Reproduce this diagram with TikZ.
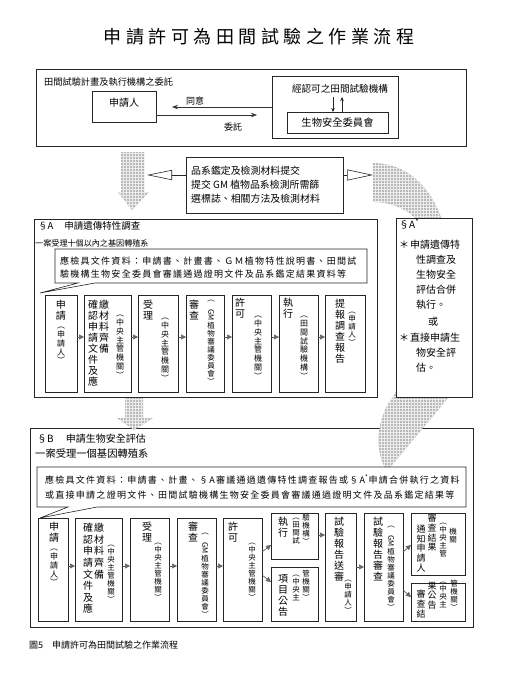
\documentclass[tikz,border=0pt]{standalone}
\usepackage{fontspec}
\setmainfont{Noto Sans CJK TC}
\newfontfamily\lsf[LetterSpace=14]{Noto Sans CJK TC}
\newfontfamily\titlef[LetterSpace=25]{Noto Sans CJK TC}
\usetikzlibrary{arrows.meta,patterns}
\ExplSyntaxOn
\NewDocumentCommand\vtx{m}{
  \seq_clear:N \l_tmpa_seq
  \tl_map_inline:nn {#1} { \seq_put_right:Nn \l_tmpa_seq {##1} }
  \seq_use:Nn \l_tmpa_seq { \\ }
}
\ExplSyntaxOff
\newcommand\boxnode[5]{\node[bx, minimum width={#4-#2}, minimum height={#5-#3}] (#1) at (#2,#3) {};}
\newcommand\vcol[5]{\node[#1] (#2) at (#3,#4) {\vtx{#5}};}
\tikzset{
 bx/.style={draw=black!85, line width=0.6pt, fill=white, inner sep=0pt, outer sep=0pt, anchor=north west},
 vm/.style={anchor=north, align=center, inner sep=0pt, font=\fontsize{10}{11}\selectfont},
 vmb/.style={vm, font=\fontsize{10}{11.6}\selectfont},
 vs/.style={vm, font=\fontsize{9}{9.6}\selectfont},
 vp/.style={vm, font=\fontsize{8}{8.8}\selectfont},
 vpp/.style={vm, font=\fontsize{7.5}{8}\selectfont},
 lab/.style={anchor=west, inner sep=0pt},
 flow/.style={draw=black!70, line width=0.6pt, -{Triangle[length=5pt,width=5pt,color=black!60,fill=black!60]}},
 sarr/.style={draw=black!85, line width=0.5pt, -{Stealth[length=4pt,width=3.5pt]}},
 harr/.style={draw=black!80, line width=0.7pt, -{Stealth[length=6pt,width=4.5pt]}},
 oarr/.style={draw=black!85, line width=0.6pt},
 callout/.style={draw=black!85, line width=0.6pt, fill=white, line join=miter},
 gfill/.style={fill=gray!55, draw=none, postaction={pattern=grid, pattern color=gray!15}},
}
\begin{document}
\begin{tikzpicture}[x=1pt,y=-1pt]
\useasboundingbox (0,0) rectangle (507,678);
\fill[white] (0,0) rectangle (507,678);
\node[font=\titlef\fontsize{18}{20}\selectfont, inner sep=0] (title) at (259,37) {申請許可為田間試驗之作業流程};

% ---- top box
\boxnode{top}{36}{69}{466}{146}
\node[lab, font=\fontsize{9.2}{10}\selectfont] (toplab) at (44,82) {田間試驗計畫及執行機構之委託};
\boxnode{app}{92}{91}{156}{122}
\node[font=\fontsize{10}{11}\selectfont, inner sep=0] (applab) at (124,103) {申請人};
\boxnode{inst}{272}{76}{398}{138}
\node[font=\fontsize{9.6}{11}\selectfont] (instlab) at (340,89) {經認可之田間試驗機構};
\boxnode{bsc}{287}{112}{388}{133}
\node[font=\fontsize{10.3}{11}\selectfont, inner sep=0] (bsclab) at (bsc.center) {生物安全委員會};
\coordinate (instb) at (bsc.north |- instlab.south);
\draw[sarr] ([xshift=-4.5pt]instb) -- ([xshift=-4.5pt]bsc.north);
\draw[sarr] ([xshift=4.5pt]bsc.north) -- ([xshift=4.5pt]instb);
\coordinate (agreeEnd) at (172,107);
\draw[harr] (inst.west |- agreeEnd) -- (agreeEnd);
\node[font=\fontsize{9}{10}\selectfont] (agreelab) at (195,101) {同意};
\coordinate (entEnd) at (257,115);
\draw[harr] (app.east |- entEnd) -- (entEnd);
\node[font=\fontsize{9}{10}\selectfont] (entlab) at (233,127) {委託};

% ---- material box
\boxnode{mat}{186}{157}{343}{213}
\node[anchor=north west, align=left, inner sep=0, font=\fontsize{9.9}{13.8}\selectfont] (matlab) at (191,166) {品系鑑定及檢測材料提交\\提交 GM 植物品系檢測所需篩\\選標誌、相關方法及檢測材料};
\coordinate (lt) at (147,175);
\coordinate (rt) at (373,175);
\draw[oarr, -{Triangle[open,length=25pt,width=10pt]}] (mat.west |- lt) -- (lt);
\draw[oarr, -{Triangle[open,length=26pt,width=11pt]}] (mat.east |- rt) -- (rt);

% ---- section B frame
\boxnode{B}{30}{428}{473}{627}

% ---- gray arrows
\path[gfill] (121,152) -- (144,152) -- (144,192) -- (149,192) -- (132,210) -- (118,192) -- (121,192) -- cycle;
\path[gfill] (125,398) -- (143,398) -- (143,418) -- (153,418) -- (134,430) -- (117,418) -- (125,418) -- cycle;
\path[gfill] (373,163) .. controls (405,163) and (430,185) .. (442,220)
  .. controls (455,260) and (462,350) .. (448,398)
  -- (387,471)
  .. controls (374,452) and (376,418) .. (393,397)
  .. controls (420,350) and (430,260) .. (415,218)
  .. controls (405,208) and (390,202) .. (373,202) -- cycle;

% ---- section A
\boxnode{A}{34}{219}{377}{397}
\node[lab, font=\fontsize{9.5}{10}\selectfont] (Ahead) at (38,226) {§A\hspace{11pt}申請遺傳特性調查};
\node[lab, font=\fontsize{8.1}{9}\selectfont] (Asub) at (35,243) {一案受理十個以內之基因轉殖系};
\draw[callout] (55,249) -- (367,249) -- (367,283) -- (95,283) -- (40,293) -- (78,283) -- (55,283) -- cycle;
\node[anchor=north west, align=left, inner sep=0, font=\lsf\fontsize{9}{12.5}\selectfont] (Adoc) at (60,257) {應檢具文件資料：申請書、計畫書、ＧＭ植物特性說明書、田間試\\驗機構生物安全委員會審議通過證明文件及品系鑑定結果資料等};

\boxnode{a1}{45}{295}{77}{392}
\boxnode{a2}{84}{295}{131}{392}
\boxnode{a3}{138}{295}{178}{392}
\boxnode{a4}{186}{295}{224}{392}
\boxnode{a5}{232}{295}{271}{392}
\boxnode{a6}{279}{295}{318}{392}
\boxnode{a7}{325}{295}{365}{392}
\foreach \p/\q in {a1/a2,a2/a3,a3/a4,a4/a5,a5/a6,a6/a7}
  \draw[flow] ([yshift=6.5pt]\p.east) -- ([yshift=6.5pt]\q.west);

\vcol{vm}{a1m}{61}{300}{申請}
\vcol{vp}{a1p}{61}{327}{︵申請人︶}
\vcol{vm}{a2m}{93}{300}{確認申請文件及應}
\vcol{vm}{a2n}{104}{300}{繳材料齊備}
\vcol{vp}{a2p}{120}{315}{︵中央主管機關︶}
\vcol{vm}{a3m}{148}{300}{受理}
\vcol{vp}{a3p}{165}{318}{︵中央主管機關︶}
\vcol{vm}{a4m}{194}{300}{審查}
\vcol{vpp}{a4p}{211}{300}{︵{\rotatebox{-90}{GM}}植物審議委員會︶}
\vcol{vm}{a5m}{240}{298}{許可}
\vcol{vp}{a5p}{258}{316}{︵中央主管機關︶}
\vcol{vm}{a6m}{288}{298}{執行}
\vcol{vp}{a6p}{304}{316}{︵田間試驗機構︶}
\vcol{vm}{a7m}{340}{299}{提報調查報告}
\vcol{vpp}{a7p}{352}{312}{︵申請人︶}

% ---- A* box
\boxnode{As}{396}{218}{472}{397}
\begin{scope}[every node/.style={lab, font=\fontsize{10}{11}\selectfont}]
\node (as0) at (399,224) {§A\textsuperscript{*}};
\node (as1) at (399,245) {＊\hspace{1pt}申請遺傳特};
\node (as2) at (416,260) {性調查及};
\node (as3) at (416,275) {生物安全};
\node (as4) at (416,290) {評估合併};
\node (as5) at (416,305) {執行。};
\node (as6) at (428,322) {或};
\node (as7) at (399,338) {＊\hspace{1pt}直接申請生};
\node (as8) at (416,353) {物安全評};
\node (as9) at (416,368) {估。};
\end{scope}

% ---- section B
\node[lab, font=\fontsize{10}{11}\selectfont] (Bhead) at (37,439) {§B\hspace{12pt}申請生物安全評估};
\node[lab, font=\fontsize{10.3}{11}\selectfont] (Bsub) at (35,454) {一案受理一個基因轉殖系};
\draw[callout] (37,467) -- (466,467) -- (466,507) -- (97,507) -- (40,518) -- (68,507) -- (37,507) -- cycle;
\node[anchor=north west, align=left, inner sep=0, font=\lsf\fontsize{9}{15}\selectfont] (Bdoc) at (45,475) {應檢具文件資料：申請書、計畫、§A審議通過遺傳特性調查報告或§A\textsuperscript{*}申請合併執行之資料\\或直接申請之證明文件、田間試驗機構生物安全委員會審議通過證明文件及品系鑑定結果等};

\boxnode{b1}{38}{518}{68}{621}
\boxnode{b2}{75}{518}{122}{621}
\boxnode{b3}{130}{518}{169}{621}
\boxnode{b4}{177}{518}{216}{621}
\boxnode{b5}{223}{518}{262}{621}
\boxnode{b6}{271}{513}{318}{559}
\boxnode{b6b}{271}{567}{318}{621}
\boxnode{b7}{325}{513}{356}{621}
\boxnode{b8}{364}{513}{403}{621}
\boxnode{b9}{411}{513}{465}{575}
\boxnode{b9b}{411}{583}{465}{621}
\foreach \p/\q in {b1/b2,b2/b3,b3/b4,b4/b5}
  \draw[flow] ([yshift=3.5pt]\p.east) -- ([yshift=3.5pt]\q.west);
\draw[flow] ([yshift=17.5pt]b5.east) -- ([yshift=-9pt]b6.west);
\draw[flow] ([yshift=-5.5pt]b5.east) -- ([yshift=12pt]b6b.west);
\draw[flow] ([yshift=1pt]b6.east) -- ([yshift=32pt]b7.west);
\draw[flow] (b7.east) -- (b8.west);
\draw[flow] ([yshift=15pt]b8.east) -- ([yshift=-1pt]b9.west);
\draw[flow] ([yshift=-23pt]b8.east) -- ([yshift=5pt]b9b.west);

\vcol{vm}{b1m}{54}{522}{申請}
\vcol{vp}{b1p}{54}{549}{︵申請人︶}
\vcol{vmb}{b2m}{88}{523}{確認申請文件及應}
\vcol{vmb}{b2n}{99}{523}{繳材料齊備}
\vcol{vpp}{b2p}{111}{545}{︵中央主管機關︶}
\vcol{vm}{b3m}{147}{522}{受理}
\vcol{vpp}{b3p}{158}{543}{︵中央主管機關︶}
\vcol{vm}{b4m}{193}{522}{審查}
\vcol{vpp}{b4p}{205}{533}{︵{\rotatebox{-90}{GM}}植物審議委員會︶}
\vcol{vm}{b5m}{233}{522}{許可}
\vcol{vpp}{b5p}{252}{543}{︵中央主管機關︶}
\vcol{vm}{b6m}{283}{517}{執行}
\vcol{vpp}{b6p}{296}{518}{︵田間試}
\vcol{vpp}{b6q}{306}{514}{驗機構︶}
\vcol{vm}{b6bm}{283}{574}{項目公告}
\vcol{vpp}{b6bp}{296}{575}{︵中央主}
\vcol{vpp}{b6bq}{306}{570}{管機關︶}
\vcol{vm}{b7m}{339}{517}{試驗報告送審}
\vcol{vpp}{b7p}{348}{580}{︵申請人︶}
\vcol{vm}{b8m}{378}{517}{試驗報告審查}
\vcol{vpp}{b8p}{391}{526}{︵{\rotatebox{-90}{GM}}植物審議委員會︶}
\vcol{vs}{b9m}{421}{525}{通知申請人}
\vcol{vs}{b9n}{432}{514}{審查結果}
\vcol{vpp}{b9p}{443}{523}{︵中央主管}
\vcol{vpp}{b9q}{453}{528}{機關}
\vcol{vs}{b9bm}{421}{590}{審查結}
\vcol{vs}{b9bn}{432}{582}{果公告}
\vcol{vpp}{b9bp}{443}{582}{︵中央主}
\vcol{vpp}{b9bq}{454}{580}{管機關︶}

% ---- caption
\node[lab, font=\fontsize{9}{10}\selectfont] (cap) at (29,645) {圖5\hspace{9pt}申請許可為田間試驗之作業流程};
\end{tikzpicture}
\end{document}
